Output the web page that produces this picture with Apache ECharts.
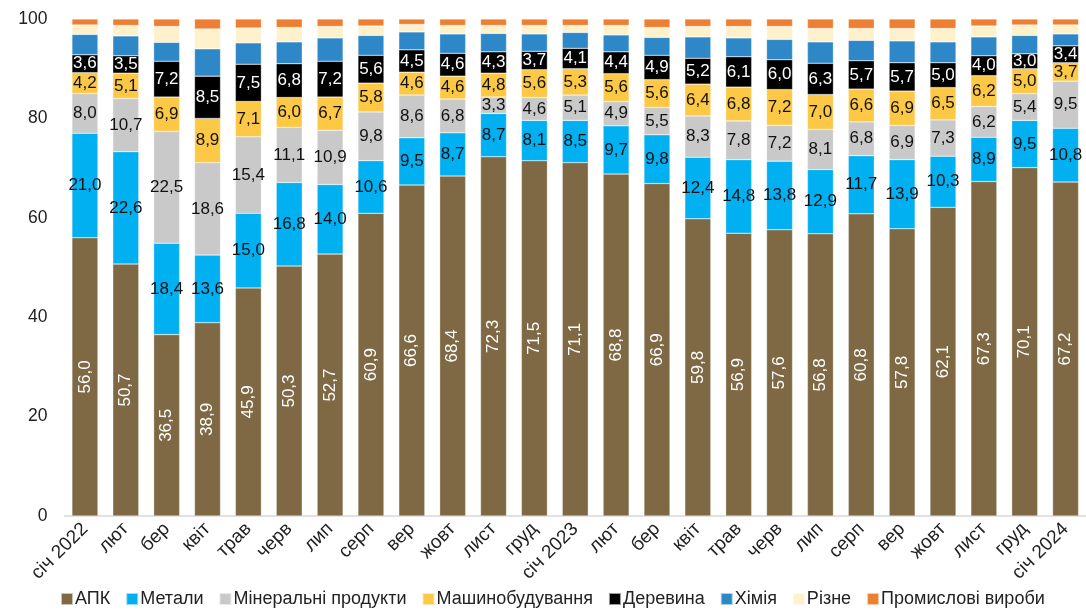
<!DOCTYPE html>
<html>
<head>
<meta charset="utf-8">
<script src="https://cdn.jsdelivr.net/npm/echarts@6/dist/echarts.min.js"></script>
<style>
html,body{margin:0;padding:0;background:#fff;}
#chart{width:1086px;height:610px;}
</style>
</head>
<body>
<div id="chart"></div>
<script>
var categories = ['січ 2022','лют','бер','квіт','трав','черв','лип','серп','вер','жовт','лист','груд','січ 2023','лют','бер','квіт','трав','черв','лип','серп','вер','жовт','лист','груд','січ 2024'];
var seriesNames = ['АПК','Метали','Мінеральні продукти','Машинобудування','Деревина','Хімія','Різне','Промислові вироби'];
var apk = [56.0,50.7,36.5,38.9,45.9,50.3,52.7,60.9,66.6,68.4,72.3,71.5,71.1,68.8,66.9,59.8,56.9,57.6,56.8,60.8,57.8,62.1,67.3,70.1,67.2];
var metals = [21.0,22.6,18.4,13.6,15.0,16.8,14.0,10.6,9.5,8.7,8.7,8.1,8.5,9.7,9.8,12.4,14.8,13.8,12.9,11.7,13.9,10.3,8.9,9.5,10.8];
var minerals = [8.0,10.7,22.5,18.6,15.4,11.1,10.9,9.8,8.6,6.8,3.3,4.6,5.1,4.9,5.5,8.3,7.8,7.2,8.1,6.8,6.9,7.3,6.2,5.4,9.5];
var machinery = [4.2,5.1,6.9,8.9,7.1,6.0,6.7,5.8,4.6,4.6,4.8,5.6,5.3,5.6,5.6,6.4,6.8,7.2,7.0,6.6,6.9,6.5,6.2,5.0,3.7];
var wood = [3.6,3.5,7.2,8.5,7.5,6.8,7.2,5.6,4.5,4.6,4.3,3.7,4.1,4.4,4.9,5.2,6.1,6.0,6.3,5.7,5.7,5.0,4.0,3.0,3.4];
var chemistry = [4.1,4.0,3.8,5.5,4.3,4.4,4.7,4.0,3.6,3.9,3.7,3.5,3.2,3.4,3.6,4.3,3.8,4.1,4.3,4.1,4.4,4.2,3.8,3.7,2.4];
var misc = [1.9,2.1,3.2,4.0,3.0,2.9,2.3,1.9,1.5,1.7,1.6,1.7,1.4,1.9,2.0,2.1,2.3,2.6,2.7,2.4,2.5,2.7,2.2,2.1,1.8];
var industrial = [1.2,1.3,1.5,2.0,1.8,1.7,1.5,1.4,1.1,1.3,1.3,1.3,1.3,1.3,1.7,1.5,1.5,1.5,1.9,1.9,1.9,1.9,1.4,1.2,1.2];
var yTicks = {min:0, max:100, interval:20};

var colors = ['#7E6944','#00B0F0','#C9C9C9','#FCC845','#000000','#2E87C7','#FFF1CC','#EE7F32'];
var dataList = [apk, metals, minerals, machinery, wood, chemistry, misc, industrial];
var FONT = '"Liberation Sans", Arial, sans-serif';

function fmt(p){ return p.value.toFixed(1).replace('.', ','); }

var series = dataList.map(function(d, i){
  var s = {
    name: seriesNames[i],
    type: 'bar',
    stack: 'total',
    data: d,
    barWidth: 26,
    itemStyle: {color: colors[i], borderColor: 'rgba(255,255,255,0.6)', borderWidth: 0.5},
    emphasis: {disabled: true},
    label: {show: false}
  };
  if (i === 0) {
    s.label = {show: true, position: 'inside', rotate: 90, color: '#fff', fontSize: 17, fontFamily: FONT, formatter: fmt};
  } else if (i >= 1 && i <= 3) {
    s.label = {show: true, position: 'inside', color: '#111', fontSize: 17, fontFamily: FONT, formatter: fmt};
  } else if (i === 4) {
    s.label = {show: true, position: 'inside', color: '#fff', fontSize: 17, fontFamily: FONT, formatter: fmt};
  }
  return s;
});

var chart = echarts.init(document.getElementById('chart'), null, {renderer: 'canvas'});
chart.setOption({
  animation: false,
  color: colors,
  grid: {left: 64.5, right: -6, top: 19, bottom: 94, containLabel: false},
  legend: {
    bottom: -3,
    left: 55,
    itemWidth: 12,
    itemHeight: 12,
    itemGap: 15,
    icon: 'rect',
    textStyle: {fontSize: 18, fontFamily: FONT, color: '#222', padding: [0,0,0,-3]},
    data: seriesNames
  },
  xAxis: {
    type: 'category',
    data: categories,
    axisLine: {lineStyle: {color: '#D9D9D9', width: 1.5}},
    axisTick: {show: false},
    axisLabel: {rotate: 45, fontSize: 19, fontFamily: FONT, color: '#222', margin: 10, interval: 0}
  },
  yAxis: {
    type: 'value',
    min: yTicks.min, max: yTicks.max, interval: yTicks.interval,
    splitLine: {show: false},
    axisLine: {show: false},
    axisTick: {show: false},
    axisLabel: {fontSize: 17.5, fontFamily: FONT, color: '#222', margin: 17}
  },
  series: series
});
</script>
</body>
</html>
